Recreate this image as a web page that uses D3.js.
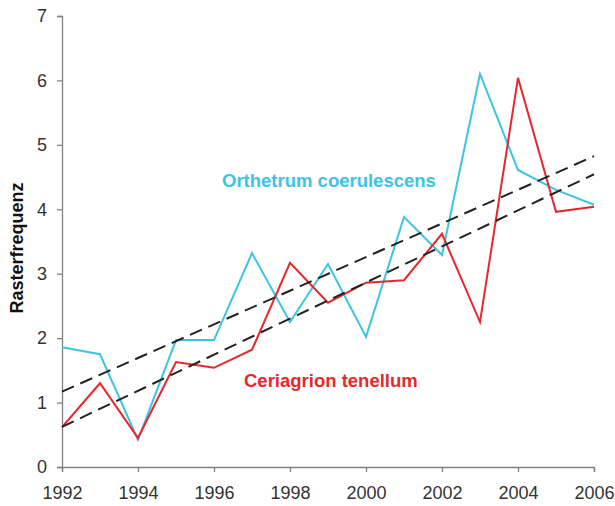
<!DOCTYPE html>
<html>
<head>
<meta charset="utf-8">
<script src="https://cdn.jsdelivr.net/npm/d3@7"></script>
<style>
  body { margin: 0; background: #fff; }
  text { font-family: "Liberation Sans", Arial, sans-serif; }
</style>
</head>
<body>
<svg id="chart" width="615" height="506"></svg>
<script>
// years and values
var years = [1992, 1993, 1994, 1995, 1996, 1997, 1998, 1999, 2000, 2001, 2002, 2003, 2004, 2005, 2006];
var orthetrum = [1.86, 1.75, 0.42, 1.97, 1.97, 3.32, 2.25, 3.15, 2.02, 3.88, 3.29, 6.10, 4.61, 4.30, 4.07];
var ceriagrion = [0.62, 1.30, 0.45, 1.63, 1.54, 1.82, 3.17, 2.55, 2.86, 2.90, 3.62, 2.25, 6.04, 3.96, 4.04];
var xTicks = [1992, 1994, 1996, 1998, 2000, 2002, 2004, 2006];
var yTicks = [0, 1, 2, 3, 4, 5, 6, 7];

var svg = d3.select("#chart");
var x = d3.scaleLinear().domain([1992, 2006]).range([62, 594]);
var y = d3.scaleLinear().domain([0, 7]).range([467, 16]);

// least squares trend
function trend(vals) {
  var mx = d3.mean(years), my = d3.mean(vals);
  var sxy = d3.sum(years, function(d, i) { return (d - mx) * (vals[i] - my); });
  var sxx = d3.sum(years, function(d) { return (d - mx) * (d - mx); });
  var b = sxy / sxx, a = my - b * mx;
  return [[1992, a + b * 1992], [2006, a + b * 2006]];
}

var line = d3.line()
  .x(function(d, i) { return x(years[i]); })
  .y(function(d) { return y(d); });
var tline = d3.line()
  .x(function(d) { return x(d[0]); })
  .y(function(d) { return y(d[1]); });

// axes
var yAxis = svg.append("g").attr("transform", "translate(62,0)")
  .call(d3.axisLeft(y).tickValues(yTicks).tickSize(5).tickPadding(10).tickFormat(d3.format("d")));
var xAxis = svg.append("g").attr("transform", "translate(0,467)")
  .call(d3.axisBottom(x).tickValues(xTicks).tickSize(5).tickPadding(14).tickFormat(d3.format("d")));
[yAxis, xAxis].forEach(function(g) {
  g.select(".domain").attr("stroke", "#808080").attr("stroke-width", 1.3);
  g.selectAll(".tick line").attr("stroke", "#808080").attr("stroke-width", 1.3);
  g.selectAll(".tick text").attr("fill", "#333").style("font-size", "18px");
});

svg.append("text")
  .attr("transform", "translate(23,248) rotate(-90)")
  .attr("text-anchor", "middle")
  .style("font-size", "18px").style("font-weight", "bold").attr("fill", "#111")
  .text("Rasterfrequenz");

// series
svg.append("path").datum(orthetrum).attr("d", line)
  .attr("fill", "none").attr("stroke", "#3cc4e6").attr("stroke-width", 2);
svg.append("path").datum(ceriagrion).attr("d", line)
  .attr("fill", "none").attr("stroke", "#e8262c").attr("stroke-width", 2);

[orthetrum, ceriagrion].forEach(function(s) {
  svg.append("path").datum(trend(s)).attr("d", tline)
    .attr("fill", "none").attr("stroke", "#222").attr("stroke-width", 2)
    .attr("stroke-dasharray", "13,7");
});

svg.append("text").attr("x", 222).attr("y", 187)
  .style("font-size", "18.5px").style("font-weight", "bold").attr("fill", "#3cc4e6")
  .text("Orthetrum coerulescens");
svg.append("text").attr("x", 244).attr("y", 387)
  .style("font-size", "18.5px").style("font-weight", "bold").attr("fill", "#e8262c")
  .text("Ceriagrion tenellum");
</script>
</body>
</html>
